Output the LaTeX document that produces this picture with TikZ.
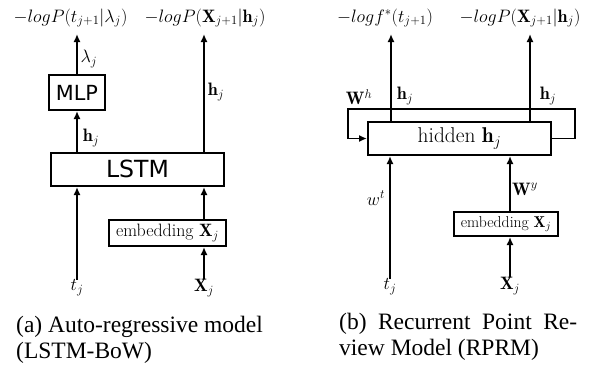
\RequirePackage{fix-cm}
\documentclass[tikz,border=0pt]{standalone}
\usepackage{fontspec}
\newfontfamily\capfont{Liberation Serif}
\newfontfamily\sansf{DejaVu Sans}
\usetikzlibrary{arrows.meta}
\begin{document}
\begin{tikzpicture}[x=1pt,y=-1pt,
 arr/.style={-{Latex[length=8pt,width=7pt]}, line width=1.8pt},
 blk/.style={draw, line width=2pt, inner sep=0pt},
 lab/.style={font=\fontsize{18}{21}\selectfont, inner sep=0pt},
 captxt/.style={font=\capfont\fontsize{23.5}{27}\selectfont, inner sep=0pt, anchor=base west}]
\useasboundingbox (0,0) rectangle (594,364);
% ---------- panel (a)
\node[blk, minimum width=173pt, minimum height=33.5pt, font=\sansf\fontsize{23.6}{26}\selectfont] (lstm) at (137.5,169.25) {LSTM};
\node[blk, minimum width=56pt, minimum height=35pt, font=\sansf\fontsize{20.8}{23}\selectfont] (mlp) at (77,92.5) {MLP};
\node[blk, minimum width=117pt, minimum height=26pt, font=\fontsize{17.9}{20}\selectfont] (embA) at (167.5,233) {embedding $\mathbf{X}_j$};
\node[lab] (outA1) at (70.5,18) {$-logP(t_{j+1}|\lambda_j)$};
\node[lab] (outA2) at (205,18) {$-logP(\mathbf{X}_{j+1}|\mathbf{h}_j)$};
\node[lab] (tA) at (77,288) {$t_j$};
\node[lab] (xA) at (204,288) {$\mathbf{X}_j$};
\coordinate (topA1) at (77,34);
\coordinate (topA2) at (204,34);
\draw[arr] (lstm.north -| mlp) -- (mlp.south);
\draw[arr] (mlp.north) -- (topA1);
\draw[arr] (lstm.north -| topA2) -- (topA2);
\draw[arr] (tA.north) -- (lstm.south -| tA);
\draw[arr] (embA.north -| topA2) -- (lstm.south -| topA2);
\draw[arr] (xA.north) -- (embA.south -| xA);
\node[lab] (lamA) at (89,59) {$\lambda_j$};
\node[lab] (hA1) at (91,138) {$\mathbf{h}_j$};
\node[lab] (hA2) at (216,92) {$\mathbf{h}_j$};
\node[captxt] (capA1) at (16,332) {(a) Auto-regressive model};
\node[captxt] (capA2) at (16,358) {(LSTM-BoW)};
% ---------- panel (b)
\node[blk, minimum width=183pt, minimum height=33pt, font=\fontsize{21.4}{24}\selectfont] (hid) at (459.5,138.5) {hidden $\mathbf{h}_j$};
\node[blk, minimum width=104pt, minimum height=24pt, font=\fontsize{15.7}{18}\selectfont] (embB) at (506,224) {embedding $\mathbf{X}_j$};
\node[lab] (outB1) at (385,18) {$-logf^*(t_{j+1})$};
\node[lab] (outB2) at (520,18) {$-logP(\mathbf{X}_{j+1}|\mathbf{h}_j)$};
\node[lab] (tB) at (390,287) {$t_j$};
\node[lab] (xB) at (510,286) {$\mathbf{X}_j$};
\coordinate (topB1) at (391,34);
\coordinate (topB2) at (530,34);
\coordinate (lr) at (575,109);
\coordinate (ll) at (348,109);
\draw[arr] (hid.north -| topB1) -- (topB1);
\draw[arr] (hid.north -| topB2) -- (topB2);
\draw[arr] (tB.north) -- (hid.south -| tB);
\draw[arr] (embB.north -| xB) -- (hid.south -| xB);
\draw[arr] (xB.north) -- (embB.south -| xB);
\draw[arr] (hid.east) -| (lr) -- (ll) |- (hid.west);
\node[lab] (whB) at (359,97) {$\mathbf{W}^h$};
\node[lab] (hB1) at (405,96) {$\mathbf{h}_j$};
\node[lab] (hB2) at (548,96) {$\mathbf{h}_j$};
\node[lab] (wtB) at (376,198) {$w^t$};
\node[lab] (wyB) at (525,189) {$\mathbf{W}^y$};
\node[captxt] (capB1) at (339,329) {\makebox[238pt][s]{(b) Recurrent Point Re-}};
\node[captxt] (capB2) at (339,355) {view Model (RPRM)};
\end{tikzpicture}
\end{document}
